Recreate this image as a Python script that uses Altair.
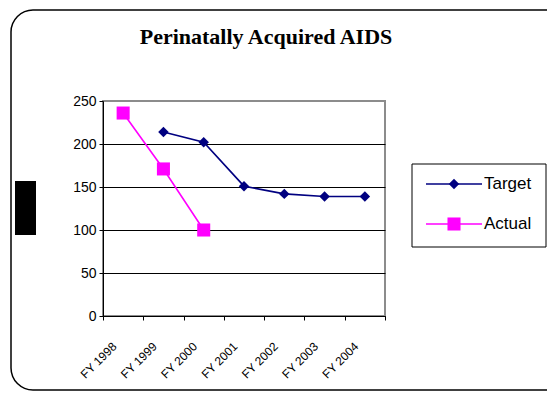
import altair as alt
import math
import pandas as pd

categories = ["FY 1998", "FY 1999", "FY 2000", "FY 2001", "FY 2002", "FY 2003", "FY 2004"]
target = [None, 214, 202, 151, 142, 139, 139]
actual = [236, 171, 100, None, None, None, None]
series_names = ["Target", "Actual"]
series_colors = ["#000080", "#FF00FF"]
title_text = "Perinatally Acquired AIDS"
y_ticks = [0, 50, 100, 150, 200, 250]

rows = []
for name, vals in zip(series_names, [target, actual]):
    for c, v in zip(categories, vals):
        if v is not None:
            rows.append({"cat": c, "value": v, "series": name})
df = pd.DataFrame(rows)

W_PLOT, H_PLOT = 282, 215
PAD_L, PAD_T = 95, 93
W_TOT, H_TOT = 539, 384

x = alt.X("cat:N", sort=categories, title=None,
          scale=alt.Scale(domain=categories, paddingInner=0, paddingOuter=0),
          axis=alt.Axis(labelAngle=-45, labelAlign="right", labelBaseline="middle",
                        labelFont="Liberation Sans", labelFontSize=12, labelColor="black",
                        labelPadding=24, labelOffset=-9,
                        tickBand="extent", tickSize=4, tickColor="black",
                        domainColor="black", domainWidth=1, grid=False))
y = alt.Y("value:Q", title=None,
          scale=alt.Scale(domain=[0, 250], nice=False),
          axis=alt.Axis(values=y_ticks, labelFont="Liberation Sans", labelFontSize=14,
                        labelColor="black", labelPadding=3, tickSize=4, tickColor="black",
                        domainColor="black", domainWidth=1,
                        grid=True, gridWidth=1,
                        gridColor={"condition": {"test": "datum.value === 250", "value": "#8c8c8c"},
                                   "value": "black"}))

layers = []
shapes = {"Target": ("diamond", 110), "Actual": ("square", 170)}
for name, col in zip(series_names, series_colors):
    sub = alt.Chart(df).transform_filter(alt.datum.series == name)
    layers.append(sub.mark_line(color=col, strokeWidth=1.6).encode(x=x, y=y))
    shp, sz = shapes[name]
    layers.append(sub.mark_point(shape=shp, size=sz, filled=True, color=col, opacity=1).encode(x=x, y=y))

base = alt.Chart(pd.DataFrame({"a": [0]}))

# outer frame (open on the right side, like the cropped original)
R = 22
FL, FT, FB, FR = -92, -91, 289, 444
frame = [
    base.mark_rule(color="black", strokeWidth=1.5).encode(
        x=alt.value(FL + R), x2=alt.value(FR), y=alt.value(FT)),
    base.mark_rule(color="black", strokeWidth=1.5).encode(
        x=alt.value(FL + R), x2=alt.value(FR), y=alt.value(FB)),
    base.mark_rule(color="black", strokeWidth=1.5).encode(
        x=alt.value(FL), y=alt.value(FT + R), y2=alt.value(FB - R)),
    base.mark_arc(color="black", radius=R + 0.75, radius2=R - 0.75,
                  theta=1.5 * math.pi, theta2=2 * math.pi).encode(
        x=alt.value(FL + R), y=alt.value(FT + R)),
    base.mark_arc(color="black", radius=R + 0.75, radius2=R - 0.75,
                  theta=math.pi, theta2=1.5 * math.pi).encode(
        x=alt.value(FL + R), y=alt.value(FB - R)),
]
# black block at left
block = base.mark_rect(color="black").encode(
    x=alt.value(-88), x2=alt.value(-67), y=alt.value(80), y2=alt.value(134))
# title
title = base.mark_text(text=title_text, font="Liberation Serif", fontWeight="bold",
                       fontSize=22, align="center", baseline="middle", color="black").encode(
    x=alt.value(163), y=alt.value(-64))
# legend box
lbox = base.mark_rect(fill="white", stroke="black", strokeWidth=1).encode(
    x=alt.value(309), x2=alt.value(443), y=alt.value(63), y2=alt.value(146))
legend_layers = [lbox]
leg_y = [83, 123]
for name, col, ly in zip(series_names, series_colors, leg_y):
    shp, sz = shapes[name]
    legend_layers.append(base.mark_rule(color=col, strokeWidth=1.6).encode(
        x=alt.value(323), x2=alt.value(379), y=alt.value(ly)))
    legend_layers.append(base.mark_point(shape=shp, size=sz, filled=True, color=col, opacity=1).encode(
        x=alt.value(351), y=alt.value(ly)))
    legend_layers.append(base.mark_text(text=name, font="Liberation Sans", fontSize=17,
                                        align="left", baseline="middle", color="black").encode(
        x=alt.value(381), y=alt.value(ly)))

chart = alt.layer(*frame, block, title, *layers, *legend_layers).properties(
    width=W_PLOT, height=H_PLOT,
    autosize=alt.AutoSizeParams(type="none"),
    padding={"left": PAD_L, "top": PAD_T, "right": W_TOT - PAD_L - W_PLOT,
             "bottom": H_TOT - PAD_T - H_PLOT},
    background="white",
).configure_view(stroke="#8c8c8c", strokeWidth=2)

chart.save("out.html", embed_options={"renderer": "svg", "actions": False})
